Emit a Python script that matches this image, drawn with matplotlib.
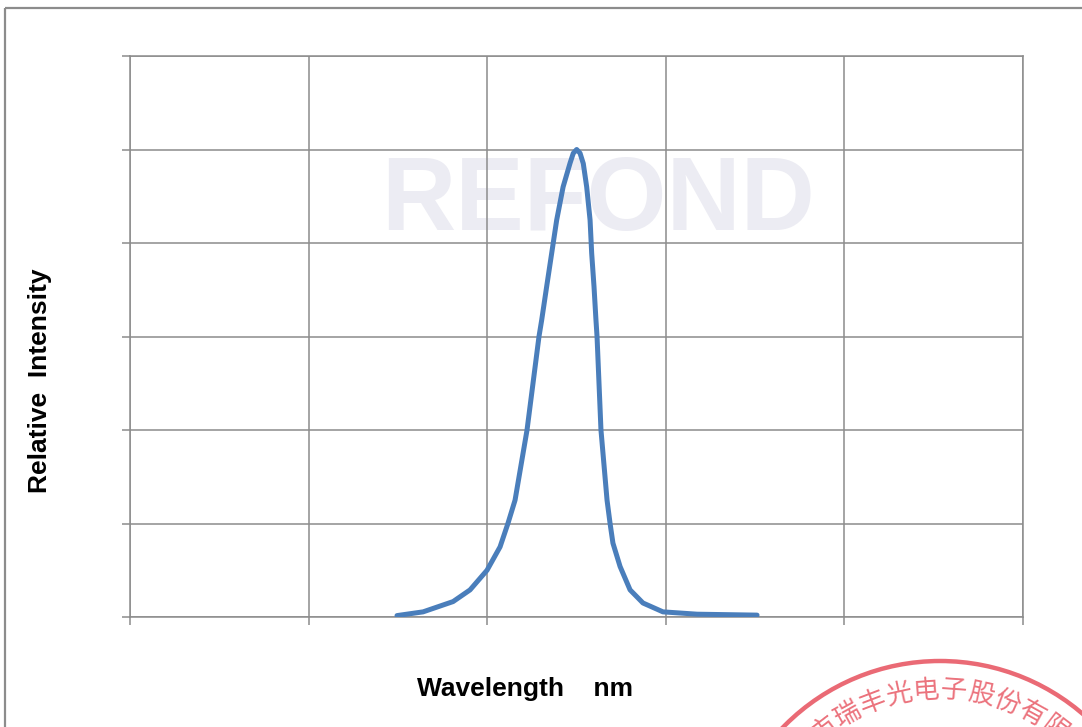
import numpy as np
import matplotlib.pyplot as plt
from matplotlib.patches import Rectangle, Circle

# spectrum (no tick labels shown in the original)
wavelength = [449.5, 464.1, 480.9, 490.4, 499.9, 507.2, 511.6, 515.6, 522.3,
              529.0, 530.5, 533.3, 536.1, 538.9, 542.5, 546.4, 548.2, 550.1,
              552.0, 553.8, 555.7, 557.6, 558.5, 559.8, 560.9, 561.5, 563.7,
              567.1, 568.8, 570.4, 574.4, 580.0, 587.2, 598.4, 617.5, 651.1]
intensity = [0.003, 0.011, 0.033, 0.058, 0.100, 0.150, 0.200, 0.250, 0.400,
             0.600, 0.635, 0.707, 0.778, 0.849, 0.920, 0.971, 0.992, 1.000,
             0.992, 0.970, 0.920, 0.849, 0.778, 0.707, 0.635, 0.600, 0.400,
             0.250, 0.200, 0.158, 0.108, 0.058, 0.030, 0.011, 0.006, 0.004]
x_ticks = [300, 400, 500, 600, 700, 800]
y_ticks = [0, 0.2, 0.4, 0.6, 0.8, 1.0, 1.2]
seal_chars = "市瑞丰光电子股份有限"

W, H = 1082, 727
grey = '#8c8c8c'
fig = plt.figure(figsize=(W / 100, H / 100), dpi=100)
fig.patch.set_facecolor('white')

ax = fig.add_axes([130 / W, 1 - 617 / H, 893 / W, 561 / H])
ax.plot(wavelength, intensity, color='#4a7ebb', lw=3.6,
        solid_capstyle='round', solid_joinstyle='round', zorder=3)
ax.set_xlim(300, 800)
ax.set_ylim(0, 1.2)
ax.set_xticks(x_ticks)
ax.set_yticks(y_ticks)
ax.set_xticklabels([])
ax.set_yticklabels([])
ax.tick_params(direction='out', length=6, width=1.1, color=grey)
ax.set_axisbelow(True)
ax.grid(True, color=grey, lw=1.1)
for s in ax.spines.values():
    s.set_color(grey)
    s.set_linewidth(1.1)

# faint watermark logo
ax.text(562, 0.885, 'REFOND', fontsize=74, fontweight='bold',
        family='Liberation Sans', color='#ececf3', ha='center', va='center',
        zorder=0.2)

# overlay in pixel coordinates
ov = fig.add_axes([0, 0, 1, 1], zorder=5)
ov.set_xlim(0, W)
ov.set_ylim(H, 0)
ov.axis('off')
ov.patch.set_alpha(0)

ov.add_patch(Rectangle((5, 8), W + 20, H + 20, fill=False,
                       edgecolor=grey, lw=1.6, clip_on=False))

ov.text(525, 689, 'Wavelength    nm', fontsize=19, fontweight='bold',
        family='Liberation Sans', ha='center', va='center')
ov.text(40, 381, 'Relative  Intensity', fontsize=19, fontweight='bold',
        family='Liberation Sans', ha='center', va='center', rotation=90)

# red company seal (partly outside the page)
seal = '#e85a66'
cx, cy, r = 940, 880, 219
ov.add_patch(Circle((cx, cy), r, fill=False, edgecolor=seal, lw=3.2,
                    alpha=0.9, clip_on=True))
start = 37.4
step = 8.3
for i, ch in enumerate(seal_chars):
    th = np.radians(-start + i * step)
    tx = cx + 190 * np.sin(th)
    ty = cy - 190 * np.cos(th)
    ov.text(tx, ty, ch, fontsize=19, family='Noto Sans CJK SC',
            color=seal, alpha=0.85, ha='center', va='center',
            rotation=-np.degrees(th), rotation_mode='anchor', clip_on=True)

fig.savefig('out.png', dpi=100)
